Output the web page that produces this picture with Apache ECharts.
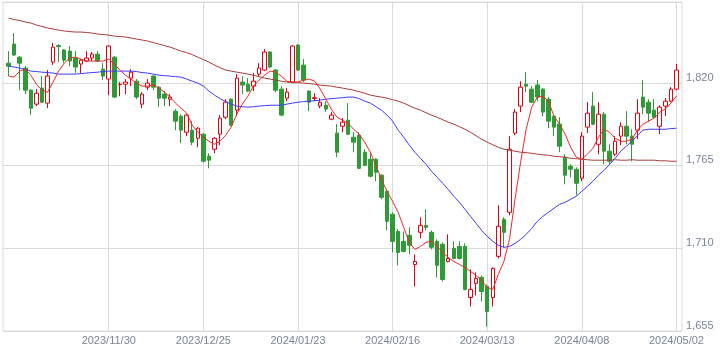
<!DOCTYPE html>
<html>
<head>
<meta charset="utf-8">
<style>
  html, body { margin: 0; padding: 0; background: #fff; }
  #chart-container { width: 722px; height: 354px; }
</style>
<script src="https://cdn.jsdelivr.net/npm/echarts@6/dist/echarts.min.js"></script>
</head>
<body>
<div id="chart-container"></div>
<script>
// 日付（営業日）
var dates = [
  '2023/11/02','2023/11/06','2023/11/07','2023/11/08','2023/11/09','2023/11/10','2023/11/13','2023/11/14','2023/11/15','2023/11/16',
  '2023/11/17','2023/11/20','2023/11/21','2023/11/22','2023/11/24','2023/11/27','2023/11/28','2023/11/29','2023/11/30','2023/12/01',
  '2023/12/04','2023/12/05','2023/12/06','2023/12/07','2023/12/08','2023/12/11','2023/12/12','2023/12/13','2023/12/14','2023/12/15',
  '2023/12/18','2023/12/19','2023/12/20','2023/12/21','2023/12/22','2023/12/25','2023/12/26','2023/12/27','2023/12/28','2023/12/29',
  '2024/01/04','2024/01/05','2024/01/09','2024/01/10','2024/01/11','2024/01/12','2024/01/15','2024/01/16','2024/01/17','2024/01/18',
  '2024/01/19','2024/01/22','2024/01/23','2024/01/24','2024/01/25','2024/01/26','2024/01/29','2024/01/30','2024/01/31','2024/02/01',
  '2024/02/02','2024/02/05','2024/02/06','2024/02/07','2024/02/08','2024/02/09','2024/02/13','2024/02/14','2024/02/15','2024/02/16',
  '2024/02/19','2024/02/20','2024/02/21','2024/02/22','2024/02/26','2024/02/27','2024/02/28','2024/02/29','2024/03/01','2024/03/04',
  '2024/03/05','2024/03/06','2024/03/07','2024/03/08','2024/03/11','2024/03/12','2024/03/13','2024/03/14','2024/03/15','2024/03/18',
  '2024/03/19','2024/03/21','2024/03/22','2024/03/25','2024/03/26','2024/03/27','2024/03/28','2024/03/29','2024/04/01','2024/04/02',
  '2024/04/03','2024/04/04','2024/04/05','2024/04/08','2024/04/09','2024/04/10','2024/04/11','2024/04/12','2024/04/15','2024/04/16',
  '2024/04/17','2024/04/18','2024/04/19','2024/04/22','2024/04/23','2024/04/24','2024/04/25','2024/04/26','2024/04/30','2024/05/01',
  '2024/05/02'
];
// 目盛りに出す日付
var labelDates = ['2023/11/30','2023/12/25','2024/01/23','2024/02/16','2024/03/13','2024/04/08','2024/05/02'];

// 四本値
var openPrices = [
  1833.3,1846,1837.3,1830,1815.3,1806,1816.7,1806.7,1834,1845,
  1842,1841.3,1836.7,1832.7,1834.7,1836.7,1839.3,1829.3,1822.7,1837.3,
  1819,1819.3,1823.3,1821.3,1806,1817.3,1824.7,1817.3,1812.7,1809.3,
  1801.3,1798,1787.3,1788.7,1783.3,1786,1771.3,1776,1786,1797.3,
  1809.3,1802,1820.7,1819.3,1818,1826,1828.7,1840.7,1828.7,1816,
  1810,1820.7,1845.3,1832,1814.7,1809.7,1804.7,1805.3,1796,1786.7,
  1791.3,1795.3,1784,1785.3,1774,1769.3,1769.3,1758.7,1748,1732.7,
  1721.3,1714.7,1718.7,1699.3,1720.7,1725.3,1720.7,1714.7,1712.7,1701.3,
  1710,1711.3,1711.3,1677.3,1686.7,1690.7,1684.7,1677.3,1704.7,1729.3,
  1734,1786.7,1804.7,1819.3,1816,1818.7,1816,1809.3,1798,1792.7,
  1770.7,1764.7,1762.7,1756.7,1790.7,1804.7,1779.3,1799.3,1774.7,1772.7,
  1784.7,1791.3,1784.7,1788.7,1810.7,1807.3,1802,1791.3,1804.7,1808,
  1816
];
var closePrices = [
  1831.3,1838.7,1833.3,1815.3,1803.3,1813.3,1807.3,1824.7,1844,1844.3,
  1835.3,1834.7,1830.7,1835.3,1836.7,1839.3,1834.7,1824.7,1844.7,1810.7,
  1819.3,1820.7,1827.3,1810.7,1812.7,1820,1817.3,1810,1810,1810.7,
  1794.7,1788.7,1798.7,1780.7,1790,1768,1768.7,1783.3,1796.7,1807.3,
  1792,1823.3,1818.7,1814.7,1821.3,1830,1840.7,1830.7,1815.3,1798.7,
  1814,1844.7,1828.7,1822,1807.3,1810.3,1807.3,1802.7,1798.7,1774,
  1794,1786,1780.7,1763.3,1765.3,1758,1760.7,1744,1728,1714.7,
  1707.3,1708,1712,1701.3,1725.3,1724,1710.7,1698.7,1689.3,1703.3,
  1703.3,1703.3,1682.7,1682.7,1690,1681.3,1668,1696.7,1724.7,1720.7,
  1776,1800.7,1817.3,1818,1807.3,1810.7,1800.7,1794.7,1790.7,1778,
  1758.7,1762.7,1753.3,1784.7,1800,1792.7,1799.3,1774.7,1768,1781.3,
  1791.3,1784.7,1779.3,1800,1804,1800,1797.3,1804,1808,1816,
  1828.7
];
var lowPrices = [
  1824.7,1838,1815.3,1812.7,1798.7,1804.7,1806.7,1803.3,1832,1834,
  1833.3,1831.3,1826.7,1826.7,1834,1834.7,1834,1822,1812,1810,
  1811.3,1812.7,1818,1809.3,1803.3,1815.3,1815.3,1804,1804.7,1804.7,
  1788.7,1780,1784.7,1778.7,1777.3,1767.3,1763.3,1773.3,1778.7,1796,
  1791.3,1798,1812.7,1814,1814.7,1824.7,1828,1830,1814,1798,
  1808,1820,1828,1820.7,1801.3,1808,1803.3,1800.7,1795.3,1770.7,
  1787.3,1785.3,1774,1762.7,1764.7,1757.3,1754.7,1742.7,1722,1707.3,
  1698.7,1707.3,1706,1684.7,1716.7,1722,1709.3,1690.7,1688,1700.7,
  1702.7,1702.7,1682,1671.3,1678.7,1674.7,1658,1671.3,1703.3,1710.7,
  1732,1785.3,1800.7,1814,1806.7,1808,1798,1790,1784.7,1774,
  1752.7,1757.3,1745.3,1754.7,1786.7,1792,1772.7,1766,1766,1771.3,
  1778.7,1779.3,1768,1782.7,1799.3,1794,1796,1786,1798,1807.3,
  1815.3
];
var highPrices = [
  1841.3,1853.3,1838,1831.3,1816,1816,1824.7,1828.7,1846.7,1846,
  1842.7,1844.7,1841.3,1836,1841.3,1840.7,1841.3,1833.3,1845.3,1838,
  1820.7,1822.7,1829.3,1822.7,1814,1822.7,1825.3,1818,1814.7,1812.7,
  1802.7,1799.3,1799.3,1794.7,1790.7,1786.7,1773.3,1784,1798.7,1809.3,
  1810,1826,1824.7,1823.3,1826.7,1833.3,1842.7,1841.3,1829.3,1818,
  1816.7,1845.3,1846,1836,1815.3,1813.3,1810,1808,1800.7,1792.7,
  1796.7,1806.7,1787.3,1787.3,1776,1774,1770,1759.3,1749.3,1734,
  1722.7,1721.3,1724,1706,1730.7,1736,1722,1716,1714,1719.3,
  1714.7,1714.7,1713.3,1696,1694,1692,1686,1697.3,1738.7,1730.7,
  1784.7,1802.7,1821.3,1827.3,1818,1822,1816.7,1810.7,1799.3,1797.3,
  1772.7,1766,1764,1787.3,1807.3,1814,1807.3,1800.7,1779.3,1784.7,
  1794,1801.3,1789.3,1809.3,1822,1809.3,1809.3,1805.3,1810,1817.3,
  1832.7
];

// 移動平均線
var maShort = [
  1824.7,1824,1828,1829.3,1825.3,1819.3,1815.3,1814,1820.7,1828,
  1833.3,1836.7,1837.3,1836,1834.7,1834.7,1834.7,1834.7,1836,1832.7,
  1828.7,1825.3,1822.7,1820,1818,1818,1818.7,1816.7,1814,1810.7,
  1806.7,1803.3,1800,1792,1787.3,1784,1781.3,1779.3,1781.3,1785.3,
  1790.7,1799.3,1806,1811.3,1818,1822,1825.3,1828,1827.3,1824.7,
  1821.3,1820.7,1820.7,1822,1822.7,1821.3,1816,1809.3,1802.7,1797.3,
  1795.3,1793.3,1789.3,1786,1780.7,1774,1765.3,1756,1748,1741.3,
  1734,1724,1714,1709.3,1711.3,1714,1714.7,1711.3,1707.3,1704,
  1701.3,1699.3,1697.3,1694.7,1692,1688.7,1684,1682.7,1692.7,1701.3,
  1716,1742.7,1767.3,1789.3,1804,1810.7,1811.3,1808,1798,1792.7,
  1786,1777.3,1770.7,1769.3,1772.7,1776.7,1784,1789.3,1787.3,1783.3,
  1781.3,1781.3,1782.7,1788.7,1792.7,1794.7,1796.7,1800.7,1802.7,1806.7,
  1811.3
];
var maMid = [
  1831.3,1830.7,1830,1829,1828,1827.7,1827.3,1827,1826.7,1826,
  1826,1826,1826,1826.3,1826.7,1827,1827.3,1827.7,1828,1828,
  1828,1828,1828,1827.7,1827,1826.7,1826,1825.3,1825,1824.7,
  1824.3,1824,1822.7,1821.3,1820,1818,1814.7,1812,1809.7,1807.7,
  1806,1804.7,1804.3,1804,1804.3,1804.7,1805,1805.3,1805.3,1805.3,
  1806,1806.7,1807.3,1807.7,1808,1808.3,1808.7,1809.3,1809.7,1810,
  1810.3,1810.7,1810.7,1809.7,1808,1806.7,1804.3,1802,1798.7,1794.7,
  1788.7,1784,1778.7,1774,1770,1766,1761.3,1757.3,1753.3,1749.3,
  1744.7,1740.7,1736,1731.3,1726.7,1722,1718,1714.7,1712,1710.7,
  1711.3,1713.3,1716,1719.3,1723.3,1728,1731.3,1734,1736.7,1739.3,
  1740.7,1742.7,1744.7,1748,1751.3,1754.7,1758.7,1762,1766,1770,
  1774.7,1778,1781.3,1785.3,1788.7,1789.3,1789.3,1789.3,1789.3,1789.7,
  1790
];
var maLong = [
  1863.3,1862.3,1861.7,1860.7,1860,1858.7,1857.7,1856.7,1856,1855.3,
  1854.7,1854.3,1854,1854,1853.7,1853.3,1852.7,1852.3,1852,1851.3,
  1851,1850.7,1850,1849.3,1848.7,1848,1847,1846,1845,1844,
  1842.7,1841.3,1840.3,1839,1837.3,1835.7,1834,1832,1830.3,1828.7,
  1828,1827.3,1826.7,1826,1825.3,1824.3,1823.3,1822.7,1822,1821.3,
  1820.7,1820.3,1820.3,1820,1819.7,1819.3,1818.7,1818.3,1818,1817.3,
  1816.7,1816,1815.3,1814.3,1813.3,1812,1811.3,1810.7,1810,1809,
  1808,1806.7,1805,1803.3,1802,1800.3,1798.7,1797.3,1795.7,1794,
  1792.7,1791,1789.3,1787.3,1785,1782.7,1780.7,1779,1777.3,1776,
  1775.3,1774.7,1774,1773.7,1773.3,1772.7,1772.3,1772,1771.3,1771,
  1770.7,1770,1769.7,1769.3,1769,1768.7,1768.7,1768.7,1768.7,1769,
  1768.7,1768.7,1769,1768.7,1768.7,1768.7,1768.7,1768.3,1768.3,1768,
  1768
];

// 縦軸の目盛り
var yMin = 1655;
var yMax = 1874;
var yStep = 55;

var container = document.getElementById('chart-container');
var myChart = echarts.init(container);

// 左右に1本分の余白を入れる
var axisData = [''].concat(dates, ['']);
var candleData = [['-', '-', '-', '-']];
for (var i = 0; i < dates.length; i++) {
  candleData.push([openPrices[i], closePrices[i], lowPrices[i], highPrices[i]]);
}
candleData.push(['-', '-', '-', '-']);
function pad(arr) { return ['-'].concat(arr, ['-']); }
function isLabelDate(index, value) { return labelDates.indexOf(value) >= 0; }

var gridColor = '#dadada';
var labelColor = '#7b8595';

myChart.setOption({
  animation: false,
  grid: {
    left: 3, right: 40, top: 2, bottom: 23,
    show: true,
    borderColor: gridColor,
    borderWidth: 1
  },
  xAxis: {
    type: 'category',
    data: axisData,
    boundaryGap: false,
    axisLine: { show: false },
    axisTick: { show: false },
    axisLabel: {
      interval: isLabelDate,
      color: labelColor,
      fontSize: 11,
      fontFamily: 'Liberation Sans, Arial, sans-serif',
      margin: 4
    },
    splitLine: {
      show: true,
      interval: isLabelDate,
      lineStyle: { color: gridColor, width: 1 }
    }
  },
  yAxis: {
    type: 'value',
    position: 'right',
    min: yMin,
    max: yMax,
    interval: yStep,
    axisLine: { show: false },
    axisTick: { show: false },
    axisLabel: {
      showMaxLabel: false,
      color: labelColor,
      fontSize: 11,
      fontFamily: 'Liberation Sans, Arial, sans-serif',
      margin: 4,
      verticalAlign: 'bottom',
      formatter: function (v) { return String(v).replace(/\B(?=(\d{3})+(?!\d))/g, ','); }
    },
    splitLine: { lineStyle: { color: gridColor, width: 1 } }
  },
  series: [
    {
      type: 'candlestick',
      data: candleData,
      barWidth: 4,
      itemStyle: {
        color: '#ffffff',
        color0: '#2f9a37',
        borderColor: '#e60012',
        borderColor0: '#2f9a37',
        borderWidth: 1
      }
    },
    {
      type: 'line',
      data: pad(maLong),
      symbol: 'none',
      lineStyle: { color: '#a83a3a', width: 1 }
    },
    {
      type: 'line',
      data: pad(maMid),
      symbol: 'none',
      lineStyle: { color: '#3a3aff', width: 1 }
    },
    {
      type: 'line',
      data: pad(maShort),
      symbol: 'none',
      lineStyle: { color: '#f02828', width: 1 }
    }
  ]
});
</script>
</body>
</html>
